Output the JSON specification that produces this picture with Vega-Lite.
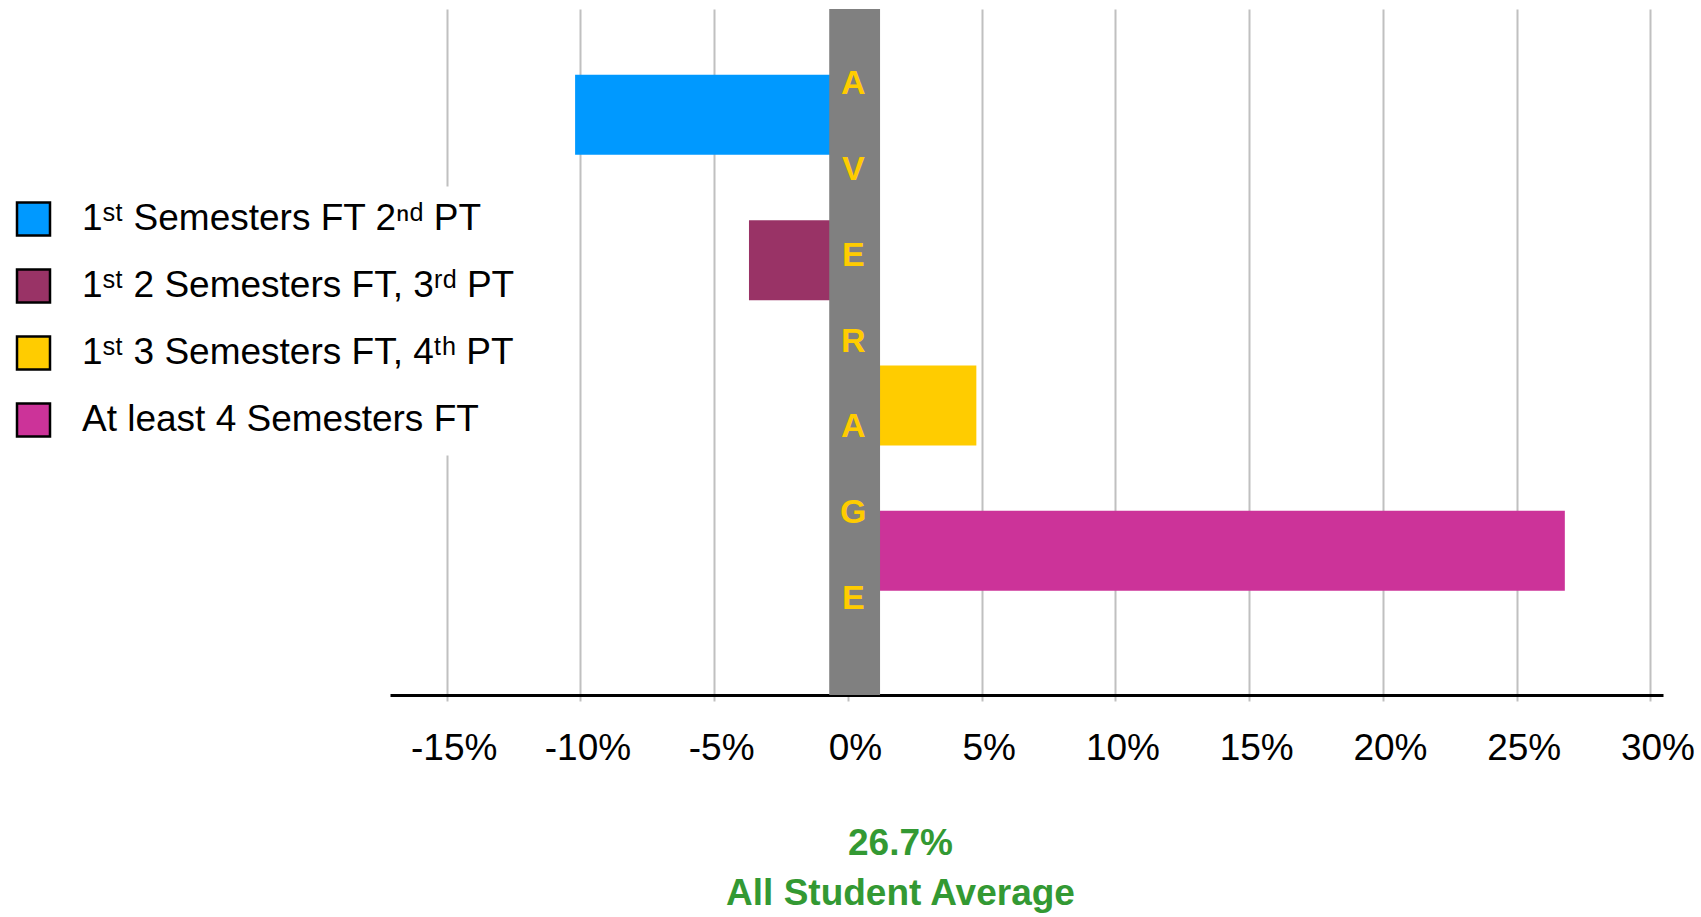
{
  "$schema": "https://vega.github.io/schema/vega-lite/v6.json",
  "width": 1273,
  "height": 686,
  "autosize": {"type": "none"},
  "padding": {"left": 390, "top": 9, "right": 38, "bottom": 222},
  "background": "white",
  "config": {"view": {"stroke": null}, "font": "Liberation Sans"},
  "datasets": {
    "bars": [
      {"group": "1ˢᵗ Semesters FT 2ⁿᵈ PT", "diff": -10.2},
      {"group": "1ˢᵗ 2 Semesters FT, 3ʳᵈ PT", "diff": -3.7},
      {"group": "1ˢᵗ 3 Semesters FT, 4ᵗʰ PT", "diff": 4.8},
      {"group": "At least 4 Semesters FT", "diff": 26.8}
    ],
    "band": [{"lo": -0.7, "hi": 1.2}],
    "letters": [
      {"slot": 1, "letter": "A"},
      {"slot": 2, "letter": "V"},
      {"slot": 3, "letter": "E"},
      {"slot": 4, "letter": "R"},
      {"slot": 5, "letter": "A"},
      {"slot": 6, "letter": "G"},
      {"slot": 7, "letter": "E"}
    ]
  },
  "layer": [
    {
      "data": {"name": "bars"},
      "mark": {"type": "bar"},
      "encoding": {
        "y": {
          "field": "group", "type": "nominal", "sort": null, "axis": null,
          "scale": {"paddingInner": 0.4494, "paddingOuter": 0.5854, "align": 0.387}
        },
        "x": {
          "field": "diff", "type": "quantitative",
          "scale": {"domain": [-17.12, 30.47], "nice": false, "zero": false},
          "axis": {
            "values": [-15, -10, -5, 0, 5, 10, 15, 20, 25, 30],
            "labelExpr": "datum.value + '%'",
            "grid": true, "gridColor": "#c0c0c0", "gridWidth": 2,
            "domainColor": "black", "domainWidth": 3,
            "tickColor": "#c0c0c0", "tickWidth": 2, "tickSize": 6,
            "labelFont": "Liberation Sans", "labelFontSize": 37, "labelColor": "black",
            "labelPadding": 29, "labelOffset": 7, "labelFlush": false, "labelOverlap": false,
            "title": ["26.7%", "All Student Average"],
            "titleFont": "Liberation Sans", "titleFontSize": 37, "titleFontWeight": "bold",
            "titleColor": "#339933", "titleX": 510, "titleY": 130, "titleBaseline": "top",
            "titleLineHeight": 50, "titleAlign": "center"
          }
        },
        "x2": {"datum": 0},
        "color": {
          "field": "group", "type": "nominal", "sort": null,
          "scale": {
            "domain": ["1ˢᵗ Semesters FT 2ⁿᵈ PT", "1ˢᵗ 2 Semesters FT, 3ʳᵈ PT", "1ˢᵗ 3 Semesters FT, 4ᵗʰ PT", "At least 4 Semesters FT"],
            "range": ["#0099FF", "#993366", "#FFCC00", "#CC3399"]
          },
          "legend": {
            "orient": "none", "legendX": -389, "legendY": 177.5, "direction": "vertical", "title": null,
            "symbolType": "square", "symbolSize": 1089, "symbolStrokeWidth": 2.5, "symbolStrokeColor": "black",
            "symbolOpacity": 1,
            "labelFont": "Liberation Sans", "labelFontSize": 37, "labelColor": "black", "labelLimit": 700,
            "labelOffset": 30, "rowPadding": 24, "padding": 14, "fillColor": "white",
            "encode": {"symbols": {"update": {"stroke": {"value": "black"}, "strokeWidth": {"value": 2.5}}}}
          }
        }
      }
    },
    {
      "data": {"name": "band"},
      "mark": {"type": "rect", "color": "#808080"},
      "encoding": {
        "x": {"field": "lo", "type": "quantitative"},
        "x2": {"field": "hi"}
      }
    },
    {
      "data": {"name": "letters"},
      "mark": {"type": "text", "font": "Liberation Sans", "fontWeight": "bold", "fontSize": 34, "color": "#FFCC00", "baseline": "middle", "align": "center"},
      "encoding": {
        "x": {"datum": 0.2, "type": "quantitative"},
        "y": {"field": "slot", "type": "ordinal", "axis": null, "scale": {"type": "point", "padding": 1.149, "align": 0.44}},
        "text": {"field": "letter"}
      }
    }
  ],
  "resolve": {"scale": {"y": "independent"}}
}
